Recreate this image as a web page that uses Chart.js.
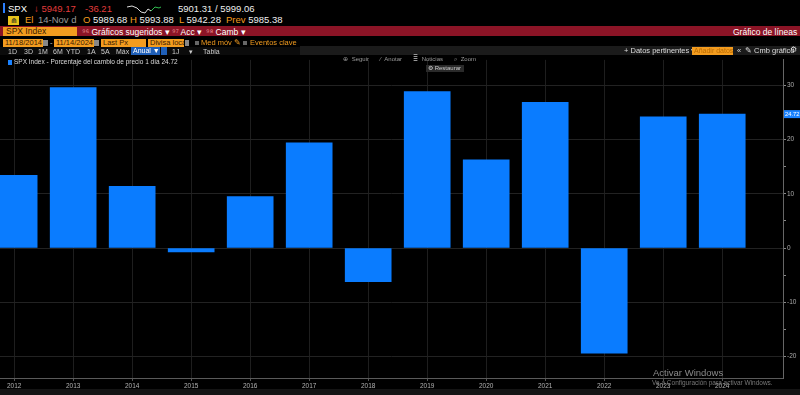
<!DOCTYPE html>
<html>
<head>
<meta charset="utf-8">
<script src="https://cdn.jsdelivr.net/npm/chart.js@4/dist/chart.umd.min.js"></script>
<style>
  body { margin: 0; background: #000; width: 800px; height: 395px; overflow: hidden; position: relative;
         font-family: "Liberation Sans", Arial, sans-serif; color: #ddd; }
  .a { position: absolute; white-space: nowrap; line-height: 1; }
  .r1 { font-size: 9.5px; top: 4px; }
  .r2 { font-size: 9.5px; top: 15px; }
  .t8 { font-size: 7.5px; }
  .or { color: #f39c1f; }
  .red { color: #e23b3b; }
  .box { background: #f39c1f; color: #3a1a00; padding: 0 2px; overflow: hidden; }
  #band { position: absolute; left: 0; top: 26px; width: 800px; height: 10px; background: #8b1426; }
  #bar5 { position: absolute; left: 300px; top: 46px; width: 500px; height: 9px; background: #1b1b1b; }
  #foot { position: absolute; left: 0; top: 389px; width: 800px; height: 6px; background: #141414; }
  #wrap { position: absolute; left: 0; top: 55px; width: 800px; height: 340px; }
</style>
</head>
<body>
<div id="band"></div>
<div id="bar5"></div>
<div id="foot"></div>
<div id="wrap"><canvas id="myChart" width="800" height="340"></canvas></div>

<!-- fila 1 -->
<div class="a" style="left:3px;top:3px;width:2px;height:10px;background:#2a7fff"></div>
<div class="a r1" style="left:8px;color:#fff">SPX</div>
<div class="a r1 red" style="left:34px">↓ 5949.17</div>
<div class="a r1 red" style="left:85px">-36.21</div>
<svg class="a" style="left:126px;top:3px" width="36" height="12">
  <polyline points="1,4 6,3 11,5 15,9 19,10 22,6 25,8" fill="none" stroke="#ddd" stroke-width="1"/>
  <polyline points="25,8 29,4 33,5 35,4" fill="none" stroke="#2fbf4f" stroke-width="1"/>
</svg>
<div class="a r1" style="left:178px;color:#eee">5901.31 / 5999.06</div>
<!-- fila 2 -->
<div class="a" style="left:8px;top:16px;width:11px;height:9px;background:#e8c21a;color:#222;font-size:7px;text-align:center;line-height:9px">⋒</div>
<div class="a r2 or" style="left:25px">El</div>
<div class="a r2" style="left:38px;color:#999">14-Nov d</div>
<div class="a r2" style="left:83px;color:#eee"><span class="or">O</span> 5989.68</div>
<div class="a r2" style="left:130px;color:#eee"><span class="or">H</span> 5993.88</div>
<div class="a r2" style="left:179px;color:#eee"><span class="or">L</span> 5942.28</div>
<div class="a r2" style="left:226px;color:#eee"><span class="or">Prev</span> 5985.38</div>
<!-- fila 3 -->
<div class="a t8" style="left:3px;top:27px;width:71px;height:9px;background:#f39c1f;color:#3a1a00;padding-left:3px;font-size:8.5px;line-height:9px">SPX Index</div>
<div class="a t8" style="left:82px;top:28px;color:#fff;font-size:8.5px"><span style="color:#e99">⁹⁶</span> Gráficos sugeridos ▾</div>
<div class="a t8" style="left:172px;top:28px;color:#fff;font-size:8.5px"><span style="color:#e99">⁹⁷</span> Acc ▾</div>
<div class="a t8" style="left:206px;top:28px;color:#fff;font-size:8.5px"><span style="color:#e99">⁹⁸</span> Camb ▾</div>
<div class="a t8" style="left:733px;top:28px;color:#fff;font-size:8.5px">Gráfico de líneas</div>
<!-- fila 4 -->
<div class="a t8 box" style="left:3px;top:39px;width:36px;height:8px;line-height:8px">11/18/2014</div>
<div class="a" style="left:43px;top:40px;width:5px;height:6px;background:#888"></div>
<div class="a t8" style="left:50px;top:39px;color:#ccc">-</div>
<div class="a t8 box" style="left:54px;top:39px;width:36px;height:8px;line-height:8px">11/14/2024</div>
<div class="a" style="left:94px;top:40px;width:5px;height:6px;background:#888"></div>
<div class="a t8 box" style="left:101px;top:39px;width:41px;height:8px;line-height:8px">Last Px</div>
<div class="a t8 box" style="left:148px;top:39px;width:32px;height:8px;line-height:8px">Divisa local</div>
<div class="a" style="left:185px;top:40px;width:4px;height:6px;background:#888"></div>
<div class="a" style="left:195px;top:41px;width:4px;height:4px;background:#666"></div>
<div class="a t8 or" style="left:201px;top:39px">Med móv ✎</div>
<div class="a" style="left:243px;top:41px;width:4px;height:4px;background:#666"></div>
<div class="a t8 or" style="left:250px;top:39px">Eventos clave</div>
<!-- fila 5 -->
<div class="a" style="left:0;top:47px;width:300px;height:8px;background:#0b0b0b"></div>
<div class="a" style="top:48px;left:8px;font-size:7px;color:#ccc;word-spacing:0">
  <span style="position:absolute;left:0">1D</span><span style="position:absolute;left:16px">3D</span>
  <span style="position:absolute;left:30px">1M</span><span style="position:absolute;left:45px">6M</span>
  <span style="position:absolute;left:58px">YTD</span><span style="position:absolute;left:79px">1A</span>
  <span style="position:absolute;left:93px">5A</span><span style="position:absolute;left:108px">Máx</span>
</div>
<div class="a" style="left:131px;top:47px;width:27px;height:8px;background:#1f5fb8;color:#fff;font-size:7px;line-height:8px;padding-left:2px">Anual ▼</div>
<div class="a" style="left:161px;top:47px;width:6px;height:8px;background:#1f5fb8"></div>
<div class="a" style="left:172px;top:48px;font-size:7px;color:#ccc">1J</div>
<div class="a" style="left:189px;top:48px;font-size:7px;color:#ccc">▾</div>
<div class="a" style="left:203px;top:48px;font-size:7px;color:#ccc">Tabla</div>
<div class="a" style="left:624px;top:47px;font-size:7.5px;color:#ddd">+ Datos pertinentes ▾</div>
<div class="a" style="left:692px;top:47px;width:39px;height:8px;background:#f39c1f;color:#b96a00;font-size:7px;line-height:8px;padding-left:2px">Añadir datos</div>
<div class="a" style="left:737px;top:47px;font-size:7.5px;color:#ddd">«</div>
<div class="a" style="left:745px;top:47px;font-size:7.5px;color:#ddd">✎ Cmb gráfico</div>
<div class="a" style="left:790px;top:46px;font-size:8px;color:#ddd">⚙</div>
<!-- controles del gráfico -->
<div class="a" style="left:343px;top:56px;font-size:6px;color:#999;word-spacing:2px">⊕ Seguir &nbsp; ⁄ Anotar &nbsp; ≣ Noticias &nbsp; ⌕ Zoom</div>
<div class="a" style="left:426px;top:65px;width:36px;height:7px;background:#2a2a2a;color:#ccc;font-size:6px;line-height:7px;padding-left:2px">⚙ Restaurar</div>
<div class="a" style="left:8px;top:60px;width:4px;height:5px;background:#1a82ff"></div>
<div class="a" id="leg" style="left:14px;top:59px;font-size:6.5px;color:#ddd"></div>
<!-- marca de agua -->
<div class="a" style="left:653px;top:368px;font-size:9.5px;color:#8a8a8a">Activar Windows</div>
<div class="a" style="left:652px;top:380px;font-size:6.5px;color:#777">Ve a Configuración para activar Windows.</div>

<script>
const years = [2012, 2013, 2014, 2015, 2016, 2017, 2018, 2019, 2020, 2021, 2022, 2023, 2024];
const pctChange = [13.4, 29.6, 11.4, -0.7, 9.5, 19.4, -6.2, 28.9, 16.3, 26.9, -19.4, 24.2, 24.72];
const yTicks = [-20, -15, -10, -5, 0, 5, 10, 15, 20, 25, 30];
const seriesName = 'SPX Index - Porcentaje del cambio de precio 1 día';
const lastValue = pctChange[pctChange.length - 1];

document.getElementById('leg').textContent = seriesName + ' ' + lastValue.toFixed(2);

// etiqueta azul del último valor sobre el eje derecho
const lastBadge = {
    id: 'lastBadge',
    afterDraw(chart) {
        const y = chart.scales.y.getPixelForValue(lastValue);
        const ctx = chart.ctx;
        ctx.save();
        ctx.fillStyle = '#1a82ff';
        ctx.fillRect(chart.chartArea.right + 1, y - 4, 17, 8);
        ctx.fillStyle = '#fff';
        ctx.font = '5.8px "Liberation Sans", Arial';
        ctx.textBaseline = 'middle';
        ctx.fillText(lastValue.toFixed(2), chart.chartArea.right + 2, y);
        ctx.restore();
    }
};

const ctx = document.getElementById('myChart').getContext('2d');
const myChart = new Chart(ctx, {
    type: 'bar',
    data: {
        datasets: [{
            label: seriesName,
            data: years.map((yr, i) => ({ x: yr, y: pctChange[i] })),
            backgroundColor: '#0a7cff',
            borderWidth: 0,
            barThickness: 46
        }]
    },
    options: {
        responsive: false,
        animation: false,
        layout: { padding: 0 },
        plugins: { legend: { display: false }, tooltip: { enabled: false } },
        scales: {
            x: {
                type: 'linear',
                offset: false,
                min: 2011.76,
                max: 2025.03,
                afterBuildTicks: s => { s.ticks = years.map(v => ({ value: v })); },
                afterFit: s => { s.height = 17; },
                ticks: {
                    callback: v => String(v),
                    color: '#b0b0b0',
                    font: { size: 6.5, family: '"Liberation Sans", Arial' },
                    padding: 1,
                    maxRotation: 0,
                    autoSkip: false
                },
                grid: { offset: false, color: '#1e1e1e', tickColor: '#555', tickLength: 3 },
                border: { color: '#5a5a5a' }
            },
            y: {
                position: 'right',
                min: -24,
                max: 34.73,
                afterBuildTicks: s => { s.ticks = yTicks.map(v => ({ value: v })); },
                afterFit: s => { s.width = 17; },
                ticks: {
                    callback: v => (v % 10 === 0 ? String(v) : ''),
                    color: '#aaa',
                    font: { size: 6.5, family: '"Liberation Sans", Arial' },
                    padding: 1
                },
                grid: {
                    color: c => (c.tick && c.tick.value % 10 === 0 ? '#222' : 'transparent'),
                    tickColor: '#888',
                    tickLength: 3
                },
                border: { color: '#666' }
            }
        }
    },
    plugins: [lastBadge]
});
</script>
</body>
</html>
